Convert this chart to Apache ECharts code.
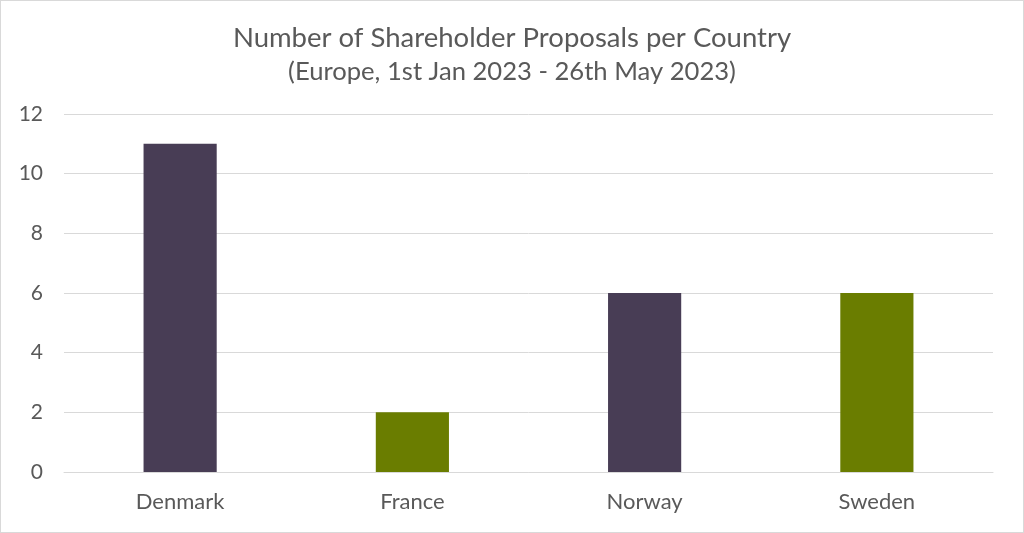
<!DOCTYPE html>
<html><head><meta charset="utf-8">
<script src="https://cdn.jsdelivr.net/npm/echarts@6/dist/echarts.min.js"></script>
<style>html,body{margin:0;padding:0;background:#fff}#c{width:1024px;height:533px;box-sizing:border-box;border:1px solid #d9d9d9}</style>
</head><body><div id="c"></div>
<script>
const categories = ['Denmark', 'France', 'Norway', 'Sweden'];
const values = [11, 2, 6, 6];
const barColors = ['#483d55', '#6a7d00', '#483d55', '#6a7d00'];
const yTicks = { min: 0, max: 12, interval: 2 };

const chart = echarts.init(document.getElementById('c'));
chart.setOption({
  animation: false,
  title: {
    text: 'Number of Shareholder Proposals per Country',
    subtext: '(Europe, 1st Jan 2023 - 26th May 2023)',
    left: 'center', top: 18, itemGap: 7,
    textStyle: { fontFamily: 'Lato', fontSize: 27.5, fontWeight: 'normal', color: '#595959' },
    subtextStyle: { fontFamily: 'Lato', fontSize: 25.6, color: '#595959' }
  },
  grid: { left: 63, right: 30, top: 113, bottom: 60, containLabel: false },
  xAxis: {
    type: 'category', data: categories,
    axisLine: { lineStyle: { color: '#d9d9d9', width: 1 } },
    axisTick: { show: false },
    axisLabel: { fontFamily: 'Lato', fontSize: 22, color: '#595959', margin: 19 }
  },
  yAxis: {
    type: 'value', min: yTicks.min, max: yTicks.max, interval: yTicks.interval,
    axisLine: { show: false }, axisTick: { show: false },
    splitLine: { lineStyle: { color: '#d9d9d9', width: 1 } },
    axisLabel: { fontFamily: 'Lato', fontSize: 21, color: '#595959', margin: 21 }
  },
  series: [{
    type: 'bar', barWidth: '31.5%',
    data: values.map((v, i) => ({ value: v, itemStyle: { color: barColors[i] } }))
  }]
});
</script></body></html>
